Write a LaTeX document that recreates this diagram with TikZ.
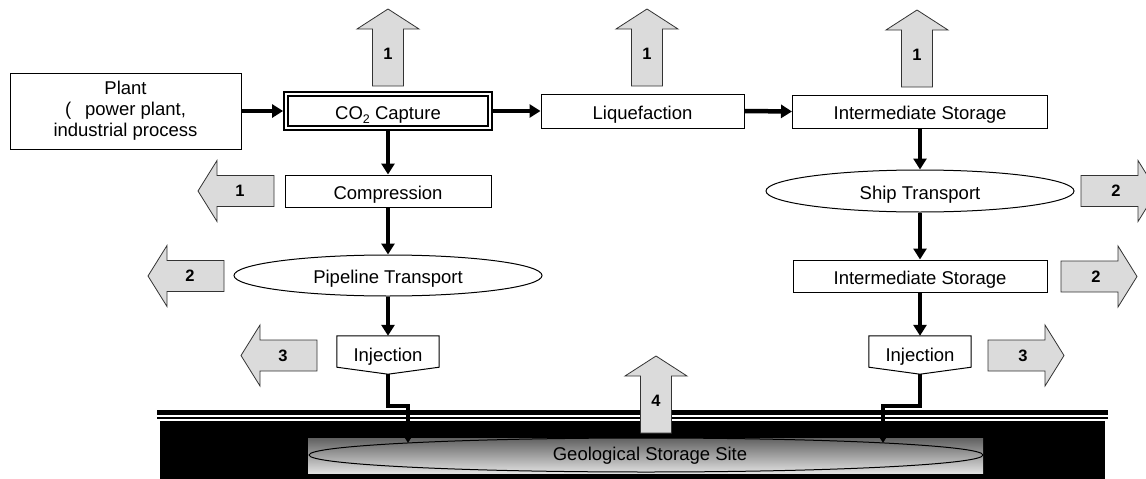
\documentclass[tikz,border=0pt]{standalone}
\usepackage{fontspec}
\setmainfont{Liberation Sans}
\usetikzlibrary{arrows.meta,shapes.geometric,calc}
\begin{document}
\begin{tikzpicture}[x=1pt,y=-1pt,
  txt/.style={font=\fontsize{18.5}{21}\selectfont},
  box/.style={txt, draw, line width=1pt, fill=white, inner sep=0pt, text height=16pt, text depth=0pt},
  ell/.style={txt, ellipse, draw, line width=1pt, fill=white, inner sep=0pt, text height=16pt, text depth=0pt},
  flow/.style={line width=4.5pt, -{Triangle[length=11pt,width=13pt]}},
  blk/.style={draw=black!80, line width=0.8pt, fill=black!14, line join=miter},
  num/.style={font=\fontsize{16.5}{18}\selectfont\bfseries, inner sep=0pt},
  uparr/.pic={\draw[blk] (-15.5,77) -- (-15.5,20) -- (-31,20) -- (0,0) -- (31,20) -- (15.5,20) -- (15.5,77) -- cycle;
              \node[num] (-n) at (0,45) {#1};},
  leftarr/.pic={\draw[blk] (0,0) -- (19,-30.5) -- (19,-15.5) -- (76,-15.5) -- (76,15.5) -- (19,15.5) -- (19,30.5) -- cycle;
              \node[num] (-n) at (42,0) {#1};},
  rightarr/.pic={\draw[blk] (0,0) -- (-19,-30.5) -- (-19,-15.5) -- (-76,-15.5) -- (-76,15.5) -- (-19,15.5) -- (-19,30.5) -- cycle;
              \node[num] (-n) at (-41,0) {#1};}
]
\useasboundingbox (0,0) rectangle (1146,479);
\clip (0,0) rectangle (1146,479);

% ground
\fill[black] (160,421) rectangle (1105,484);
\fill[black] (157,409.5) rectangle (1108,414.5);
\fill[black] (157,416.5) rectangle (1108,419);
\shade[top color=black!62, bottom color=black!12] (308,438) rectangle (983,473);
\node[txt, ellipse, draw, line width=1pt, minimum width=674pt, minimum height=34pt, inner sep=0pt] (geo) at (646,455) {};
\node[txt] (geot) at (650,456) {Geological Storage Site};
\coordinate (geoL) at (408,443);
\coordinate (geoR) at (883,443);

% top row
\node[txt, draw, line width=1pt, fill=white, minimum width=231pt, minimum height=76pt, align=center, inner sep=0pt] (plant) at (125.5,111)
  {Plant\\(\hspace{14pt}power plant,\\industrial process};
\node[box, double=white, line width=1.8pt, double distance=2.2pt, minimum width=204pt, minimum height=34.5pt, outer sep=2.9pt] (co2) at (388,111)
  {CO\raisebox{-4.5pt}{\fontsize{12.5}{12.5}\selectfont 2} Capture};
\node[box, minimum width=203pt, minimum height=34pt] (liq) at (642.5,111) {Liquefaction};
\node[box, minimum width=255pt, minimum height=33pt] (is1) at (920,111.5) {Intermediate Storage};

% left column
\node[box, minimum width=206pt, minimum height=32pt] (comp) at (388,191) {Compression};
\node[ell, minimum width=308pt, minimum height=41pt] (pipe) at (388,275.5) {Pipeline Transport};
\node[minimum width=102pt, minimum height=31pt, inner sep=0pt] (injL) at (388,351.5) {};
\draw[line width=1pt] (injL.north west) -- (injL.north east) -- (injL.south east) -- ($(injL.south)+(0,7)$) -- (injL.south west) -- cycle;
\node[box, draw=none, fill=none] (injLt) at (388,353) {Injection};
\coordinate (injLb) at ($(injL.south)+(0,7)$);

% right column
\node[ell, minimum width=308pt, minimum height=42pt] (ship) at (920,191) {Ship Transport};
\node[box, minimum width=254pt, minimum height=32pt] (is2) at (920,276) {Intermediate Storage};
\node[minimum width=102pt, minimum height=31pt, inner sep=0pt] (injR) at (920,351.5) {};
\draw[line width=1pt] (injR.north west) -- (injR.north east) -- (injR.south east) -- ($(injR.south)+(0,7)$) -- (injR.south west) -- cycle;
\node[box, draw=none, fill=none] (injRt) at (920,353) {Injection};
\coordinate (injRb) at ($(injR.south)+(0,7)$);

% connectors
\draw[flow] (plant.east) -- (co2.west);
\draw[flow] (co2.east) -- (liq.west);
\draw[flow] (liq.east) -- (is1.west);
\draw[flow] (co2.south) -- (comp.north);
\draw[flow] (comp.south) -- (pipe.north);
\draw[flow] (pipe.south) -- (injL.north);
\draw[flow] (is1.south) -- (ship.north);
\draw[flow] (ship.south) -- (is2.north);
\draw[flow] (is2.south) -- (injR.north);
\draw[flow] (injLb) -- ++(0,32) -| (geoL);
\draw[flow] (injRb) -- ++(0,32) -| (geoR);

% block arrows
\pic (u1) at (388,9) {uparr=1};
\pic (u2) at (647,9) {uparr=1};
\pic (u3) at (917,10) {uparr=1};
\pic (u4) at (656,356) {uparr=4};
\pic (l1) at (198,191) {leftarr=1};
\pic (l2) at (148,276) {leftarr=2};
\pic (l3) at (241,355.5) {leftarr=3};
\pic (r1) at (1157,191) {rightarr=2};
\pic (r2) at (1137,276.5) {rightarr=2};
\pic (r3) at (1064,355.5) {rightarr=3};
\end{tikzpicture}
\end{document}
